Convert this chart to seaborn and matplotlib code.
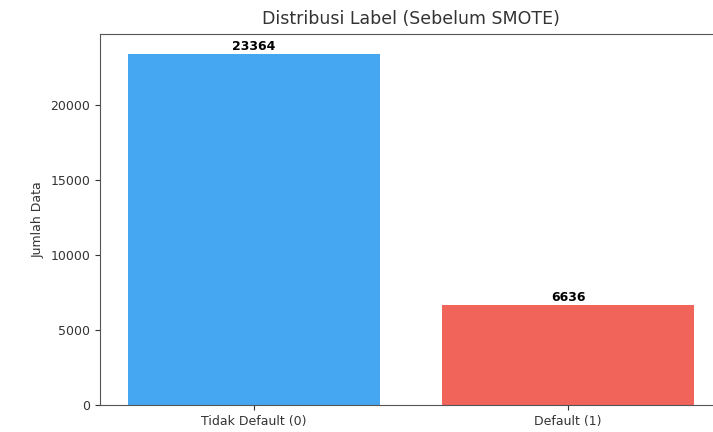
import matplotlib
matplotlib.use("Agg")
import matplotlib.pyplot as plt
import seaborn as sns
import pandas as pd

categories = ["Tidak Default (0)", "Default (1)"]
counts = [23364, 6636]
colors = ["#45A6F2", "#F0645A"]

df = pd.DataFrame({"label": categories, "jumlah": counts})

fig = plt.figure(figsize=(7.13, 4.32), dpi=100)
ax = fig.add_axes([100/713, 1-405/432, (722-100)/713, (405-34)/432])
sns.barplot(data=df, x="label", y="jumlah", hue="label", palette=colors,
            legend=False, ax=ax, width=0.8, saturation=1)
for c in ax.containers:
    ax.bar_label(c, fontsize=9, fontweight="bold", padding=1)
ax.set_xlim(-0.49, 1.49)
ax.set_ylim(0, 24700)
ax.set_title("Distribusi Label (Sebelum SMOTE)", fontsize=12.5, color="#333333", pad=7)
ax.set_xlabel("")
ax.set_ylabel("Jumlah Data", fontsize=9, color="#333333")
ax.tick_params(labelsize=9, colors="#333333")
for s in ax.spines.values():
    s.set_color("#555555")
ax.spines["right"].set_visible(False)
fig.savefig("out.png", dpi=100)
